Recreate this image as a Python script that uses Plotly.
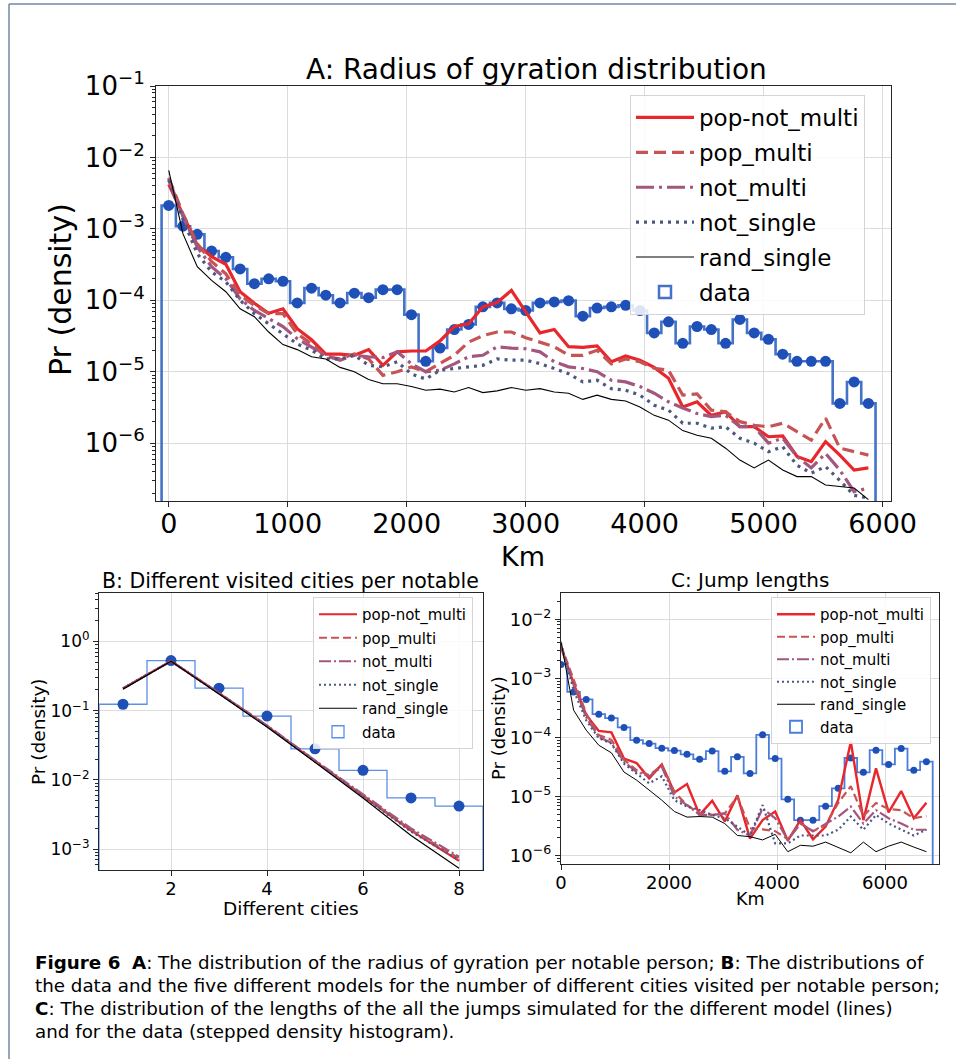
import plotly.graph_objects as go

# ---------------- Panel A: radius of gyration ----------------
A_centers_km = list(range(0, 6000, 120))          # 50 bin centres
A_data = [2.13e-3, 1.09e-3, 8.4e-4, 4.9e-4, 4.0e-4, 2.75e-4, 1.71e-4, 2.0e-4, 1.85e-4, 9.2e-5,
          1.48e-4, 1.18e-4, 9.2e-5, 1.26e-4, 1.09e-4, 1.41e-4, 1.41e-4, 6.3e-5, 1.40e-5, 2.15e-5,
          3.9e-5, 4.6e-5, 8.1e-5, 9.2e-5, 7.6e-5, 7.2e-5, 9.2e-5, 9.5e-5, 9.9e-5, 6.0e-5,
          7.8e-5, 8.1e-5, 8.5e-5, 7.2e-5, 3.5e-5, 5.0e-5, 2.5e-5, 4.3e-5, 3.9e-5, 2.5e-5,
          5.4e-5, 3.5e-5, 2.85e-5, 1.76e-5, 1.4e-5, 1.4e-5, 1.4e-5, 3.6e-6, 7.2e-6, 3.6e-6]
A_pop_not_multi = [4.2e-3, 1.55e-3, 5.9e-4, 4.1e-4, 3.2e-4, 1.32e-4, 9.1e-5, 6.6e-5, 7.6e-5, 4.0e-5,
                   2.8e-5, 1.76e-5, 1.76e-5, 1.7e-5, 2.04e-5, 1.23e-5, 1.9e-5, 1.95e-5, 1.95e-5, 2.7e-5,
                   4.3e-5, 4.7e-5, 8.1e-5, 9.3e-5, 1.38e-4, 6.9e-5, 3.5e-5, 3.9e-5, 2.24e-5, 2.2e-5,
                   2.3e-5, 1.38e-5, 1.66e-5, 1.45e-5, 1.15e-5, 8.1e-6, 3.2e-6, 3.8e-6, 2.45e-6, 2.75e-6,
                   1.7e-6, 1.7e-6, 1.23e-6, 1.26e-6, 6.5e-7, 5.5e-7, 1.05e-6, 6.8e-7, 4.2e-7, 4.5e-7]
A_pop_multi = [5.2e-3, 1.62e-3, 6.2e-4, 3.5e-4, 2.35e-4, 1.17e-4, 8.5e-5, 6.5e-5, 6.5e-5, 3.4e-5,
               2.45e-5, 1.62e-5, 1.51e-5, 1.78e-5, 1.51e-5, 8.9e-6, 1.0e-5, 1.17e-5, 1.0e-5, 1.29e-5,
               1.7e-5, 2.6e-5, 3.2e-5, 3.6e-5, 3.6e-5, 3.0e-5, 2.6e-5, 2.24e-5, 1.7e-5, 1.7e-5,
               2.0e-5, 1.29e-5, 1.51e-5, 1.38e-5, 1.12e-5, 1.05e-5, 4.7e-6, 4.9e-6, 2.9e-6, 2.75e-6,
               2.0e-6, 1.78e-6, 1.7e-6, 1.9e-6, 1.45e-6, 1.1e-6, 2.24e-6, 8.5e-7, 7.6e-7, 6.8e-7]
A_not_multi = [5.0e-3, 1.48e-3, 5.6e-4, 2.95e-4, 2.0e-4, 1.05e-4, 7.2e-5, 5.5e-5, 4.3e-5, 2.9e-5,
               2.24e-5, 1.7e-5, 1.45e-5, 1.7e-5, 1.62e-5, 1.58e-5, 1.9e-5, 1.29e-5, 1.0e-5, 1.05e-5,
               1.29e-5, 1.62e-5, 1.7e-5, 2.24e-5, 2.14e-5, 2.1e-5, 1.9e-5, 1.38e-5, 1.17e-5, 1.11e-5,
               1.0e-5, 7.6e-6, 7.2e-6, 6.2e-6, 5.0e-6, 3.8e-6, 3.1e-6, 2.6e-6, 2.35e-6, 2.45e-6,
               1.7e-6, 1.7e-6, 1.0e-6, 1.17e-6, 6.5e-7, 4.5e-7, 7.2e-7, 4.2e-7, 2.1e-7, 2.35e-7]
A_not_single = [4.8e-3, 1.35e-3, 4.5e-4, 2.5e-4, 1.82e-4, 1.0e-4, 6.5e-5, 4.7e-5, 3.4e-5, 2.45e-5,
                2.0e-5, 1.51e-5, 1.51e-5, 1.7e-5, 1.23e-5, 1.17e-5, 1.38e-5, 9.3e-6, 7.9e-6, 1.05e-5,
                1.11e-5, 1.17e-5, 1.23e-5, 1.51e-5, 1.45e-5, 1.45e-5, 1.3e-5, 1.11e-5, 9.4e-6, 7.2e-6,
                7.6e-6, 5.8e-6, 5.5e-6, 4.7e-6, 3.4e-6, 2.9e-6, 1.9e-6, 1.9e-6, 1.62e-6, 1.7e-6,
                1.17e-6, 1.0e-6, 7.6e-7, 8.9e-7, 4.9e-7, 3.8e-7, 4.7e-7, 3.0e-7, 1.86e-7, 1.7e-7]
A_rand_single = [6.6e-3, 8.5e-4, 2.95e-4, 1.9e-4, 1.32e-4, 7.6e-5, 5.9e-5, 3.6e-5, 2.4e-5, 2.04e-5,
                 1.62e-5, 1.51e-5, 1.15e-5, 1.0e-5, 7.8e-6, 6.8e-6, 6.8e-6, 6.2e-6, 5.5e-6, 5.7e-6,
                 5.2e-6, 6.0e-6, 5.1e-6, 5.4e-6, 6.0e-6, 5.5e-6, 5.8e-6, 5.2e-6, 5.0e-6, 4.1e-6,
                 4.7e-6, 4.1e-6, 3.9e-6, 3.2e-6, 2.45e-6, 2.1e-6, 1.5e-6, 1.29e-6, 1.17e-6, 8.5e-7,
                 5.8e-7, 4.5e-7, 5.8e-7, 4.2e-7, 3.4e-7, 3.4e-7, 2.6e-7, 2.5e-7, 2.35e-7, 1.62e-7]

# ---------------- Panel B: different visited cities ----------------
B_cities = [1, 2, 3, 4, 5, 6, 7, 8]
B_data = [0.124, 0.53, 0.212, 0.0836, 0.0282, 0.0138, 0.0055, 0.0042]
B_pop_not_multi = [0.21, 0.52, 0.18, 0.060, 0.0186, 0.0059, 0.00186, 6.8e-4]
B_pop_multi = [0.21, 0.52, 0.18, 0.061, 0.019, 0.0060, 0.0019, 7.4e-4]
B_not_multi = [0.21, 0.52, 0.18, 0.061, 0.0192, 0.0062, 0.0020, 7.8e-4]
B_not_single = [0.21, 0.52, 0.178, 0.060, 0.0186, 0.0058, 0.0018, 7.0e-4]
B_rand_single = [0.205, 0.52, 0.175, 0.058, 0.0180, 0.0055, 0.00158, 5.3e-4]

# ---------------- Panel C: jump lengths ----------------
C_centers_km = [i * 7000 / 30 for i in range(30)]   # 30 bin centres
C_data = [1.72e-3, 5.9e-4, 4.4e-4, 2.48e-4, 2.13e-4, 1.48e-4, 9.0e-5, 7.9e-5, 6.6e-5, 6.0e-5,
          5.2e-5, 4.3e-5, 5.9e-5, 2.68e-5, 4.7e-5, 2.47e-5, 1.11e-4, 4.4e-5, 9.0e-6, 4.0e-6,
          4.0e-6, 6.9e-6, 1.38e-5, 4.5e-5, 2.57e-5, 6.1e-5, 3.5e-5, 6.5e-5, 2.8e-5, 3.9e-5]
C_pop_not_multi = [3.4e-3, 8.2e-4, 2.4e-4, 1.29e-4, 1.22e-4, 4.4e-5, 3.7e-5, 2.04e-5, 3.5e-5, 1.17e-5,
                   1.63e-5, 4.9e-6, 8.5e-6, 3.8e-6, 1.05e-5, 1.95e-6, 4.0e-6, 5.6e-6, 1.8e-6, 4.0e-6,
                   1.9e-6, 3.1e-6, 8.8e-6, 8.5e-5, 4.0e-6, 3.0e-5, 5.4e-6, 1.24e-5, 4.3e-6, 7.9e-6]
C_pop_multi = [3.6e-3, 9.3e-4, 2.55e-4, 1.1e-4, 9.1e-5, 4.2e-5, 2.8e-5, 2.3e-5, 3.4e-5, 1.2e-5,
               7.2e-6, 5.2e-6, 4.9e-6, 5.2e-6, 1.0e-5, 2.9e-6, 2.8e-6, 2.6e-6, 1.9e-6, 3.5e-6,
               2.6e-6, 3.3e-6, 7.8e-6, 1.5e-5, 4.7e-6, 7.8e-6, 6.2e-6, 5.9e-6, 4.3e-6, 4.7e-6]
C_not_multi = [3.5e-3, 7.7e-4, 2.2e-4, 1.02e-4, 8.1e-5, 3.9e-5, 2.6e-5, 2.2e-5, 3.2e-5, 1.0e-5,
               7.2e-6, 4.9e-6, 4.9e-6, 5.2e-6, 2.75e-6, 2.2e-6, 6.3e-6, 4.3e-6, 1.85e-6, 3.5e-6,
               2.6e-6, 3.5e-6, 4.6e-6, 6.8e-6, 3.5e-6, 5.9e-6, 4.3e-6, 3.5e-6, 2.75e-6, 2.75e-6]
C_not_single = [3.9e-3, 6.3e-4, 1.95e-4, 9.7e-5, 7.9e-5, 3.6e-5, 2.45e-5, 1.68e-5, 2.2e-5, 8.7e-6,
                6.8e-6, 5.9e-6, 4.9e-6, 4.3e-6, 3.1e-6, 2.2e-6, 7.2e-6, 1.62e-6, 1.62e-6, 2.2e-6,
                2.2e-6, 2.2e-6, 2.75e-6, 4.6e-6, 2.75e-6, 4.9e-6, 3.5e-6, 2.75e-6, 2.2e-6, 2.75e-6]
C_rand_single = [4.2e-3, 2.9e-4, 1.33e-4, 7.4e-5, 5.5e-5, 2.6e-5, 1.9e-5, 1.29e-5, 8.7e-6, 5.6e-6,
                 4.5e-6, 4.6e-6, 4.5e-6, 3.5e-6, 2.2e-6, 2.1e-6, 1.85e-6, 2.3e-6, 1.17e-6, 1.5e-6,
                 1.45e-6, 1.7e-6, 1.38e-6, 1.12e-6, 1.7e-6, 1.17e-6, 1.45e-6, 1.7e-6, 1.4e-6, 1.17e-6]

model_names = ["pop-not_multi", "pop_multi", "not_multi", "not_single", "rand_single"]

# ---------------- styling ----------------
W, H = 956, 1059
FONT = "DejaVu Sans"
COL = {"pop-not_multi": "#e8262b", "pop_multi": "#c65454", "not_multi": "#a3577f",
       "not_single": "#4c5880", "rand_single": "#000000"}
HIST_A, HIST_B, HIST_C = "#4472c8", "#5b8fe8", "#4a7ddc"
DOT = "#1f50b8"


def fx(p):
    return p / W


def fy(p):
    return 1 - p / H


def step_xy(centers, width, vals, floor):
    edges = [c - width / 2 for c in centers] + [centers[-1] + width / 2]
    xs, ys = [edges[0]], [floor]
    for i, v in enumerate(vals):
        xs += [edges[i], edges[i + 1]]
        ys += [v, v]
    xs.append(edges[-1])
    ys.append(floor)
    return xs, ys


fig = go.Figure()

panels = [
    dict(x="x", y="y", leg="legend", centers=A_centers_km, width=120, data=A_data,
         models=[A_pop_not_multi, A_pop_multi, A_not_multi, A_not_single, A_rand_single],
         hist=HIST_A, hw=2.6, dot=11,
         widths=[3.2, 3.2, 3.2, 3.2, 1.1],
         dashes=["solid", "12px,6px", "18px,5px,3px,5px", "3px,5px", "solid"], dw=2.5),
    dict(x="x2", y="y2", leg="legend2", centers=B_cities, width=1, data=B_data,
         models=[B_pop_not_multi, B_pop_multi, B_not_multi, B_not_single, B_rand_single],
         hist=HIST_B, hw=1.3, dot=11,
         widths=[2.2, 2.2, 2.2, 2.2, 1.2],
         dashes=["solid", "8px,4px", "12px,3px,2px,3px", "2px,3px", "solid"], dw=1.3),
    dict(x="x3", y="y3", leg="legend3", centers=C_centers_km, width=7000 / 30, data=C_data,
         models=[C_pop_not_multi, C_pop_multi, C_not_multi, C_not_single, C_rand_single],
         hist=HIST_C, hw=1.8, dot=7,
         widths=[2.4, 2.2, 2.2, 2.2, 1.0],
         dashes=["solid", "8px,4px", "12px,3px,2px,3px", "2px,3px", "solid"], dw=1.8),
]

for p in panels:
    sx, sy = step_xy(p["centers"], p["width"], p["data"], 1e-12)
    fig.add_trace(go.Scatter(x=sx, y=sy, mode="lines", xaxis=p["x"], yaxis=p["y"],
                             line=dict(color=p["hist"], width=p["hw"]), showlegend=False,
                             hoverinfo="skip"))
    fig.add_trace(go.Scatter(x=p["centers"], y=p["data"], mode="markers", xaxis=p["x"],
                             yaxis=p["y"], marker=dict(color=DOT, size=p["dot"]),
                             showlegend=False))
    for i, (name, vals) in enumerate(zip(model_names, p["models"])):
        fig.add_trace(go.Scatter(x=p["centers"], y=vals, mode="lines", name=name,
                                 xaxis=p["x"], yaxis=p["y"], legend=p["leg"],
                                 legendgroup=p["leg"] + name,
                                 line=dict(color=COL[name], width=p["widths"][i],
                                           dash=p["dashes"][i])))
    # legend entry for the step histogram
    fig.add_trace(go.Bar(x=[-1e6], y=[1e-3], name="data", xaxis=p["x"], yaxis=p["y"],
                         legend=p["leg"], legendgroup=p["leg"] + "data",
                         marker=dict(color="rgba(255,255,255,0)",
                                     line=dict(color=p["hist"], width=p["dw"]))))


def sup(n):
    return "10<sup>" + ("\u2212" + str(-n) if n < 0 else str(n)) + "</sup>"


def minor_vals(lo, hi):
    out = []
    for e in range(lo, hi):
        for k in range(2, 10):
            out.append(k * 10 ** e)
    return out


def base_axis(size):
    return dict(showline=True, linecolor="#262626", linewidth=1.1, mirror=True,
                ticks="outside", ticklen=5, tickwidth=1.1, tickcolor="#262626",
                showgrid=True, gridcolor="#dcdcdc", gridwidth=1, zeroline=False,
                automargin=False,
                tickfont=dict(family=FONT, size=size, color="black"))


def log_axis(size, rng, exps, mlo, mhi):
    d = base_axis(size)
    d.update(type="log", range=rng, tickmode="array",
             tickvals=[10.0 ** e for e in exps], ticktext=[sup(e) for e in exps],
             minor=dict(tickmode="array", tickvals=minor_vals(mlo, mhi), ticks="outside",
                        ticklen=3, tickcolor="#262626", showgrid=False))
    return d


xa = base_axis(27)
xa.update(domain=[fx(156), fx(891)], range=[-107, 6070], tickvals=[0, 1000, 2000, 3000, 4000, 5000, 6000],
          anchor="y", ticklabelstandoff=-6)
ya = log_axis(26, [-6.81, -0.999], [-6, -5, -4, -3, -2, -1], -7, -1)
ya.update(domain=[fy(501), fy(86)], anchor="x")

xb = base_axis(18)
xb.update(domain=[fx(99), fx(483)], range=[0.5, 8.5], tickvals=[2, 4, 6, 8], anchor="y2",
          ticklabelstandoff=-3)
yb = log_axis(17, [-3.30, 0.70], [-3, -2, -1, 0], -4, 1)
yb.update(domain=[fy(870), fy(593)], anchor="x2")

xc = base_axis(18)
xc.update(domain=[fx(561), fx(939)], range=[0, 7000], tickvals=[0, 2000, 4000, 6000], anchor="y3",
          ticklabelstandoff=-3)
yc = log_axis(18, [-6.14, -1.556], [-6, -5, -4, -3, -2], -7, -1)
yc.update(domain=[fy(864), fy(593)], anchor="x3")

leg_common = dict(xanchor="left", yanchor="top", bgcolor="rgba(255,255,255,0.85)",
                  bordercolor="#d4d4d4", borderwidth=1, traceorder="grouped")

fig.update_layout(
    width=W, height=H, margin=dict(l=0, r=0, t=0, b=0, autoexpand=False),
    paper_bgcolor="white", plot_bgcolor="white", barmode="overlay",
    font=dict(family=FONT, color="black"),
    xaxis=xa, yaxis=ya, xaxis2=xb, yaxis2=yb, xaxis3=xc, yaxis3=yc,
    legend=dict(x=fx(630), y=fy(95), font=dict(family=FONT, size=23), itemwidth=58,
                tracegroupgap=2, **leg_common),
    legend2=dict(x=fx(313), y=fy(597), font=dict(family=FONT, size=15), itemwidth=38,
                 tracegroupgap=1, **leg_common),
    legend3=dict(x=fx(771), y=fy(597), font=dict(family=FONT, size=15), itemwidth=38,
                 tracegroupgap=0, **leg_common),
    showlegend=True,
)


def ann(text, x, y, size, angle=0, xanchor="center", family=FONT):
    fig.add_annotation(text=text, x=fx(x), y=fy(y), xref="paper", yref="paper",
                       showarrow=False, xanchor=xanchor, yanchor="middle", textangle=angle,
                       font=dict(family=family, size=size, color="black"))


ann("A: Radius of gyration distribution", 536, 69, 28)
ann("Pr (density)", 60, 290, 30, angle=-90)
ann("Km", 523, 556, 27)
ann("B: Different visited cities per notable", 290, 581, 20.5)
ann("Pr (density)", 38, 732, 18.5, angle=-90)
ann("Different cities", 291, 908, 18.5)
ann("C: Jump lengths", 750, 580, 20)
ann("Pr (density)", 498, 728, 18, angle=-90)
ann("Km", 750, 899, 17.5)

CAP = "DejaVu Sans"
cap_lines = [
    "<b>Figure 6</b>  <b>A</b>: The distribution of the radius of gyration per notable person; <b>B</b>: The distributions of",
    "the data and the five different models for the number of different cities visited per notable person;",
    "<b>C</b>: The distribution of the lengths of the all the jumps simulated for the different model (lines)",
    "and for the data (stepped density histogram).",
]
for i, t in enumerate(cap_lines):
    ann(t, 33, 962 + 23 * i, 18.3, xanchor="left", family=CAP)

# page border
fig.add_shape(type="line", xref="paper", yref="paper", x0=fx(9), y0=fy(4), x1=1, y1=fy(4),
              line=dict(color="#6f89a5", width=1.5))
fig.add_shape(type="line", xref="paper", yref="paper", x0=fx(9), y0=fy(4), x1=fx(9), y1=0,
              line=dict(color="#6f89a5", width=1.5))

fig.write_html("out.html", config={"displayModeBar": False},
               post_script="document.body.style.margin='0px';document.body.style.overflow='hidden';")
